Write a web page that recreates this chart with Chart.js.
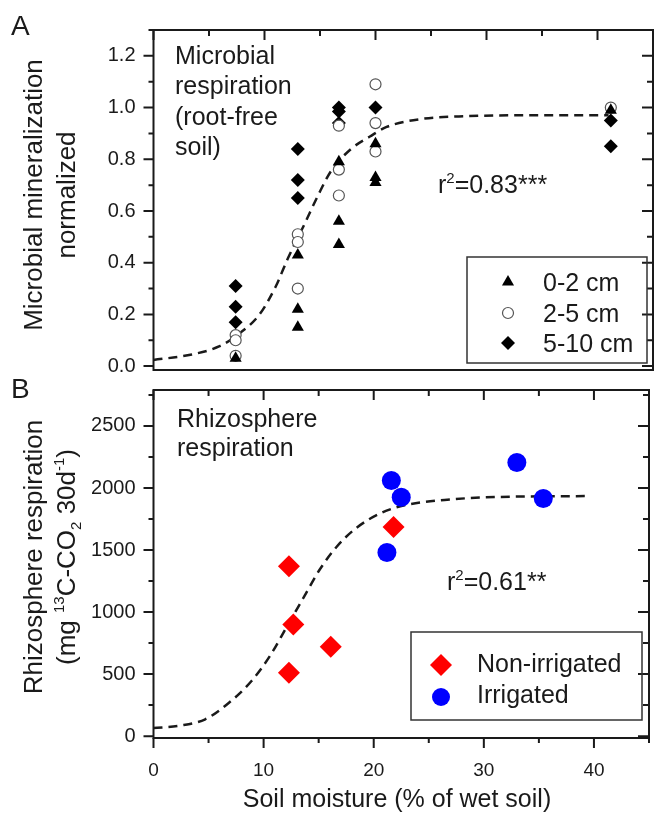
<!DOCTYPE html>
<html>
<head>
<meta charset="utf-8">
<script src="https://cdn.jsdelivr.net/npm/chart.js@4"></script>
<style>
html, body { margin: 0; padding: 0; background: #fff; overflow: hidden; }
#wrap { position: relative; width: 658px; height: 813px; overflow: hidden; }
canvas { position: absolute; left: 0; }
#chartA { top: 0; }
#chartB { top: 360px; }
</style>
</head>
<body>
<div id="wrap">
  <canvas id="chartA" width="660" height="400"></canvas>
  <canvas id="chartB" width="660" height="453"></canvas>
</div>
<script>
// --- panel A: normalized microbial mineralization by depth ---
const depth02X = [7.4, 13.0, 13.0, 13.0, 16.7, 16.7, 16.7, 20.0, 20.0, 20.0, 41.2];
const depth02Y = [0.03, 0.43, 0.22, 0.15, 0.79, 0.56, 0.47, 0.86, 0.73, 0.71, 0.99];
const depth25X = [7.4, 7.4, 7.4, 13.0, 13.0, 13.0, 16.7, 16.7, 16.7, 20.0, 20.0, 20.0, 41.2];
const depth25Y = [0.12, 0.10, 0.04, 0.51, 0.48, 0.30, 0.93, 0.76, 0.66, 1.09, 0.94, 0.83, 1.0];
const depth510X = [7.4, 7.4, 7.4, 13.0, 13.0, 13.0, 16.7, 16.7, 16.7, 20.0, 41.2, 41.2];
const depth510Y = [0.31, 0.23, 0.17, 0.84, 0.72, 0.65, 1.0, 0.985, 0.94, 1.0, 0.95, 0.85];
// fitted curve
const fitAX = [0, 3.2, 5.9, 7.7, 9.5, 11.0, 12.1, 13.6, 14.8, 16.0, 17.8, 19.5, 21.0, 24.0, 28.4, 33.0, 41.0];
const fitAY = [0.024, 0.043, 0.076, 0.125, 0.197, 0.307, 0.416, 0.549, 0.658, 0.755, 0.84, 0.888, 0.925, 0.955, 0.967, 0.97, 0.97];

// --- panel B: rhizosphere respiration ---
const nonIrrX = [12.3, 12.7, 16.1, 12.3, 21.8];
const nonIrrY = [1370, 900, 720, 510, 1685];
const irrX = [21.6, 22.5, 21.2, 33.0, 35.4];
const irrY = [2060, 1925, 1480, 2205, 1915];
const fitBX = [0, 2.4, 4.7, 6.8, 8.9, 10.6, 12.1, 13.6, 15.1, 16.6, 18.4, 20.7, 22.8, 27.0, 31.4, 39.5];
const fitBY = [65, 85, 136, 265, 444, 650, 881, 1112, 1343, 1523, 1677, 1800, 1861, 1908, 1928, 1935];

const xTicks = [0, 10, 20, 30, 40];
const yTicksA = [0, 0.2, 0.4, 0.6, 0.8, 1.0, 1.2];
const yTicksB = [0, 500, 1000, 1500, 2000, 2500];

const FONT = '"Liberation Sans", Arial, Helvetica, sans-serif';
const INK = '#1a1a1a';
const pts = (xs, ys) => xs.map((v, i) => ({ x: v, y: ys[i] }));
const fixTicks = list => s => { s.ticks = list.map(v => ({ value: v })); };

function txt(ctx, parts, x, y, align) {
  let w = 0;
  parts.forEach(p => { ctx.font = p[1] + 'px ' + FONT; w += ctx.measureText(p[0]).width; });
  let cx = align === 'center' ? x - w / 2 : x;
  parts.forEach(p => {
    ctx.font = p[1] + 'px ' + FONT;
    ctx.fillText(p[0], cx, y - (p[2] || 0));
    cx += ctx.measureText(p[0]).width;
  });
}
function vtxt(ctx, parts, x, cy) {
  ctx.save();
  ctx.translate(x, cy);
  ctx.rotate(-Math.PI / 2);
  txt(ctx, parts, 0, 0, 'center');
  ctx.restore();
}
function marker(ctx, style, r, fill, stroke, bw, x, y) {
  ctx.save();
  ctx.fillStyle = fill;
  ctx.strokeStyle = stroke;
  ctx.lineWidth = bw;
  Chart.helpers.drawPoint(ctx, { pointStyle: style, radius: r, rotation: 0, borderWidth: bw }, x, y);
  ctx.restore();
}

function minorVals(scale, step) {
  const out = [];
  const first = scale.ticks[0].value;
  for (let v = first - step / 2; v <= scale.max + 1e-9; v += step) {
    if (v >= scale.min - 1e-9) out.push(v);
  }
  return out;
}

// box around the plot + major/minor ticks (outward left/bottom, inward top/right)
const framePlugin = {
  id: 'frame',
  afterDraw(chart, args, opts) {
    const { ctx, chartArea: a, scales: { x, y } } = chart;
    ctx.save();
    ctx.strokeStyle = INK;
    ctx.lineWidth = 2;
    ctx.strokeRect(a.left, a.top, a.right - a.left, a.bottom - a.top);
    ctx.beginPath();
    const seg = (x1, y1, x2, y2) => { ctx.moveTo(x1, y1); ctx.lineTo(x2, y2); };
    y.ticks.forEach(t => {
      const p = y.getPixelForValue(t.value);
      seg(a.left - 10, p, a.left, p);
      seg(a.right - 11, p, a.right, p);
    });
    minorVals(y, opts.yStep).forEach(v => {
      const p = y.getPixelForValue(v);
      seg(a.left - 5, p, a.left, p);
      seg(a.right - 6, p, a.right, p);
    });
    x.ticks.forEach(t => {
      const p = x.getPixelForValue(t.value);
      if (opts.top) seg(p, a.top, p, a.top + 10);
      if (opts.bottom) seg(p, a.bottom, p, a.bottom + 10);
    });
    minorVals(x, 10).forEach(v => {
      const p = x.getPixelForValue(v);
      if (opts.top) seg(p, a.top, p, a.top + 6);
      if (opts.bottom) seg(p, a.bottom, p, a.bottom + 5);
    });
    ctx.stroke();
    ctx.restore();
  }
};
Chart.register(framePlugin);

Chart.defaults.font.family = FONT;
Chart.defaults.color = INK;
Chart.defaults.animation = false;

const fitStyle = {
  type: 'line', showLine: true, borderColor: INK, borderWidth: 2.5, borderDash: [9, 6],
  pointRadius: 0, cubicInterpolationMode: 'monotone', fill: false, order: 10
};

// ---------- panel A ----------
new Chart(document.getElementById('chartA'), {
  type: 'scatter',
  data: {
    datasets: [
      { label: '0-2 cm', data: pts(depth02X, depth02Y), pointStyle: 'triangle', pointRadius: 7,
        backgroundColor: '#000', borderColor: '#000', borderWidth: 0, order: 1 },
      { label: '2-5 cm', data: pts(depth25X, depth25Y), pointStyle: 'circle', pointRadius: 5.5,
        backgroundColor: '#fff', borderColor: '#555', borderWidth: 1.2, order: 2 },
      { label: '5-10 cm', data: pts(depth510X, depth510Y), pointStyle: 'rectRot', pointRadius: 7,
        backgroundColor: '#000', borderColor: '#000', borderWidth: 0, order: 3 },
      Object.assign({ label: 'fit', data: pts(fitAX, fitAY) }, fitStyle)
    ]
  },
  options: {
    responsive: false,
    layout: { padding: { top: 14, right: 0, bottom: 0, left: 0 } },
    plugins: {
      legend: { display: false }, tooltip: { enabled: false },
      frame: { yStep: 0.2, top: true, bottom: false }
    },
    scales: {
      x: {
        type: 'linear', min: 0, max: 45,
        afterBuildTicks: fixTicks(xTicks),
        ticks: { display: false },
        grid: { display: false, drawTicks: false }, border: { display: false },
        afterFit: s => { s.height = 24; }
      },
      y: {
        min: -0.015, max: 1.3,
        afterBuildTicks: fixTicks(yTicksA),
        ticks: { padding: 18, color: INK, font: { size: 20 }, callback: v => v.toFixed(1) },
        grid: { display: false, drawTicks: false }, border: { display: false },
        afterFit: s => { s.width = 153.5; }
      }
    }
  },
  plugins: [{
    id: 'decorA',
    afterDraw(chart) {
      const ctx = chart.ctx;
      ctx.save();
      ctx.fillStyle = INK;
      txt(ctx, [['A', 28]], 11, 35);
      vtxt(ctx, [['Microbial mineralization', 26]], 42, 195);
      vtxt(ctx, [['normalized', 26]], 75, 195);
      txt(ctx, [['Microbial', 25]], 175, 64);
      txt(ctx, [['respiration', 25]], 175, 94);
      txt(ctx, [['(root-free', 25]], 175, 124.5);
      txt(ctx, [['soil)', 25]], 175, 155);
      txt(ctx, [['r', 25], ['2', 15, 10], ['=0.83***', 25]], 438, 193);
      // legend
      ctx.strokeStyle = '#333';
      ctx.lineWidth = 1.5;
      ctx.strokeRect(467, 257, 180, 106);
      marker(ctx, 'triangle', 7, '#000', '#000', 0, 508, 282);
      marker(ctx, 'circle', 5.5, '#fff', '#555', 1.2, 508, 313);
      marker(ctx, 'rectRot', 7, '#000', '#000', 0, 508, 343);
      ctx.fillStyle = INK;
      txt(ctx, [['0-2 cm', 25]], 543, 291);
      txt(ctx, [['2-5 cm', 25]], 543, 322);
      txt(ctx, [['5-10 cm', 25]], 543, 352);
      ctx.restore();
    }
  }]
});

// ---------- panel B ----------
new Chart(document.getElementById('chartB'), {
  type: 'scatter',
  data: {
    datasets: [
      { label: 'Non-irrigated', data: pts(nonIrrX, nonIrrY), pointStyle: 'rectRot', pointRadius: 11,
        backgroundColor: '#ff0000', borderColor: '#ff0000', borderWidth: 0, order: 1 },
      { label: 'Irrigated', data: pts(irrX, irrY), pointStyle: 'circle', pointRadius: 9.5,
        backgroundColor: '#0000ff', borderColor: '#0000ff', borderWidth: 0, order: 2 },
      Object.assign({ label: 'fit', data: pts(fitBX, fitBY) }, fitStyle)
    ]
  },
  options: {
    responsive: false,
    layout: { padding: { top: 16, right: 0, bottom: 0, left: 0 } },
    plugins: {
      legend: { display: false }, tooltip: { enabled: false },
      frame: { yStep: 500, top: true, bottom: true }
    },
    scales: {
      x: {
        type: 'linear', min: 0, max: 45,
        afterBuildTicks: fixTicks(xTicks),
        ticks: { padding: 21, color: INK, font: { size: 19 }, maxRotation: 0, callback: v => String(v) },
        grid: { display: false, drawTicks: false }, border: { display: false },
        afterFit: s => { s.height = 75; }
      },
      y: {
        min: -15, max: 2790,
        afterBuildTicks: fixTicks(yTicksB),
        ticks: { padding: 18, color: INK, font: { size: 20 }, callback: v => String(v) },
        grid: { display: false, drawTicks: false }, border: { display: false },
        afterFit: s => { s.width = 153.5; }
      }
    }
  },
  plugins: [{
    id: 'decorB',
    afterDraw(chart) {
      const ctx = chart.ctx;
      ctx.save();
      ctx.fillStyle = INK;
      txt(ctx, [['B', 28]], 11, 38);
      vtxt(ctx, [['Rhizosphere respiration', 26]], 42, 197);
      vtxt(ctx, [['(mg ', 26], ['13', 15, 11], ['C-CO', 26], ['2', 15, -6], [' 30d', 26], ['-1', 15, 11], [')', 26]], 75, 197);
      txt(ctx, [['Rhizosphere', 25]], 177, 67);
      txt(ctx, [['respiration', 25]], 177, 96);
      txt(ctx, [['r', 25], ['2', 15, 10], ['=0.61**', 25]], 447, 230);
      txt(ctx, [['Soil moisture (% of wet soil)', 25]], 397, 447, 'center');
      // legend
      ctx.strokeStyle = '#333';
      ctx.lineWidth = 1.5;
      ctx.strokeRect(411, 272, 231, 88);
      marker(ctx, 'rectRot', 11, '#ff0000', '#ff0000', 0, 441, 305);
      marker(ctx, 'circle', 9, '#0000ff', '#0000ff', 0, 441, 337);
      ctx.fillStyle = INK;
      txt(ctx, [['Non-irrigated', 25]], 477, 312);
      txt(ctx, [['Irrigated', 25]], 477, 343);
      ctx.restore();
    }
  }]
});
</script>
</body>
</html>
